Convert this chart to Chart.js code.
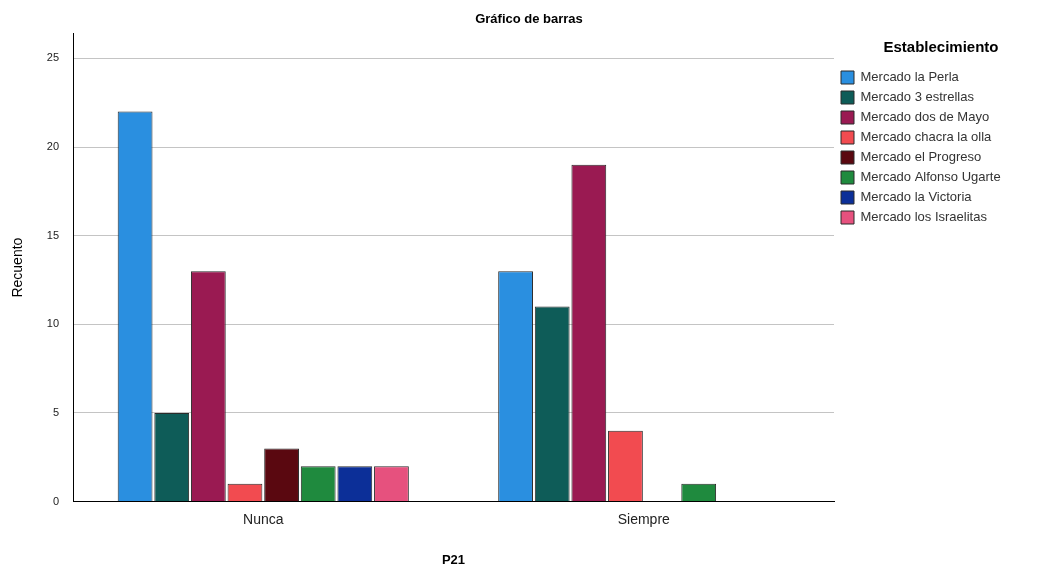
<!DOCTYPE html>
<html>
<head>
<meta charset="utf-8">
<script src="https://cdn.jsdelivr.net/npm/chart.js@4"></script>
<style>
  html, body { margin: 0; padding: 0; background: #fff; }
</style>
</head>
<body>
<canvas id="myChart" width="1048" height="570"></canvas>
<script>
const categories = ['Nunca', 'Siempre'];
const establecimientos = ['Mercado la Perla', 'Mercado 3 estrellas', 'Mercado dos de Mayo', 'Mercado chacra la olla',
  'Mercado el Progreso', 'Mercado Alfonso Ugarte', 'Mercado la Victoria', 'Mercado los Israelitas'];
const perla = [22, 13];
const tresEstrellas = [5, 11];
const dosDeMayo = [13, 19];
const chacra = [1, 4];
const progreso = [3, 0];
const alfonso = [2, 1];
const victoria = [2, 0];
const israelitas = [2, 0];
const yTicks = [0, 5, 10, 15, 20, 25];

const colors = ['#2a8fe0', '#0e5c58', '#9a1a52', '#f24b50', '#5a0810', '#1f8a3e', '#0c2f98', '#e6517e'];
const series = [perla, tresEstrellas, dosDeMayo, chacra, progreso, alfonso, victoria, israelitas];

// legend on the right takes a fixed width, like the SPSS output
const legendWidth = {
  id: 'legendWidth',
  afterInit(chart) {
    const lg = chart.legend;
    const fit = lg.fit;
    lg.fit = function () {
      fit.call(this);
      this.width = 214;
      this.minSize && (this.minSize.width = 214);
    };
  }
};

const ctx = document.getElementById('myChart');

new Chart(ctx, {
  type: 'bar',
  data: {
    labels: categories,
    datasets: series.map((s, i) => ({
      label: establecimientos[i],
      data: s,
      backgroundColor: colors[i],
      borderColor: '#2b2b2b',
      borderWidth: 1,
      categoryPercentage: 0.77,
      barPercentage: 0.95
    }))
  },
  plugins: [legendWidth],
  options: {
    responsive: false,
    animation: false,
    layout: { padding: { left: 10, right: 0, top: 0, bottom: 2 } },
    font: { family: 'Liberation Sans' },
    plugins: {
      title: {
        display: true,
        text: 'Gráfico de barras',
        color: '#000',
        font: { family: 'Liberation Sans', size: 13, weight: 'bold' },
        padding: { top: 12, bottom: 6 }
      },
      legend: {
        position: 'right',
        align: 'start',
        title: {
          display: true,
          text: 'Establecimiento',
          color: '#000',
          font: { family: 'Liberation Sans', size: 15, weight: 'bold' },
          padding: { top: 40, bottom: 6 }
        },
        labels: {
          color: '#333',
          boxWidth: 13,
          boxHeight: 13,
          padding: 7,
          font: { family: 'Liberation Sans', size: 13 }
        }
      },
      tooltip: { enabled: false }
    },
    scales: {
      x: {
        grid: { display: false, drawTicks: false },
        border: { color: '#000', width: 1 },
        ticks: { color: '#222', font: { family: 'Liberation Sans', size: 14 }, padding: 10 },
        title: {
          display: true,
          text: 'P21',
          color: '#000',
          font: { family: 'Liberation Sans', size: 13, weight: 'bold' },
          padding: { top: 14, bottom: 0 }
        }
      },
      y: {
        min: 0,
        max: 26.4,
        afterBuildTicks: axis => { axis.ticks = yTicks.map(v => ({ value: v })); },
        grid: { color: c => c.tick && c.tick.value === 0 ? 'rgba(0,0,0,0)' : '#c4c4c4', drawTicks: false },
        border: { color: '#000', width: 1 },
        ticks: { color: '#222', font: { family: 'Liberation Sans', size: 11 }, padding: 14 },
        title: {
          display: true,
          text: 'Recuento',
          color: '#000',
          font: { family: 'Liberation Sans', size: 14 },
          padding: { top: 0, bottom: 6 }
        }
      }
    }
  }
});
</script>
</body>
</html>
